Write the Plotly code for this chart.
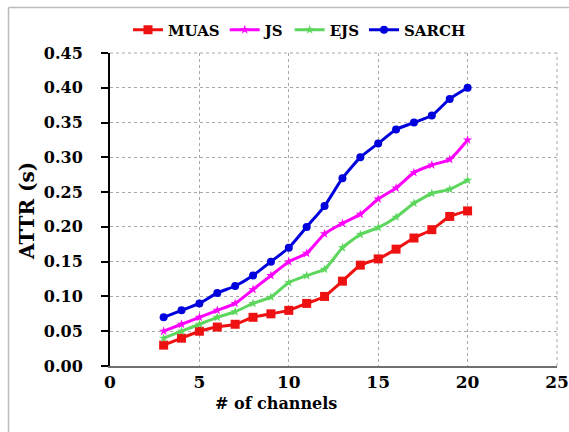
import plotly.graph_objects as go

channels = list(range(3, 21))
muas = [0.030, 0.040, 0.050, 0.056, 0.060, 0.070, 0.075, 0.080, 0.090, 0.100,
        0.122, 0.145, 0.154, 0.168, 0.184, 0.196, 0.215, 0.223]
js = [0.050, 0.060, 0.070, 0.080, 0.090, 0.110, 0.130, 0.150, 0.162, 0.190,
      0.205, 0.218, 0.240, 0.256, 0.278, 0.289, 0.297, 0.325]
ejs = [0.040, 0.050, 0.060, 0.070, 0.078, 0.090, 0.099, 0.120, 0.130, 0.139,
       0.170, 0.189, 0.199, 0.214, 0.234, 0.248, 0.254, 0.267]
sarch = [0.070, 0.080, 0.090, 0.105, 0.115, 0.130, 0.150, 0.170, 0.200, 0.230,
         0.270, 0.300, 0.320, 0.340, 0.350, 0.360, 0.384, 0.400]
x_ticks = [0, 5, 10, 15, 20, 25]
y_ticks = [0, 0.05, 0.1, 0.15, 0.2, 0.25, 0.3, 0.35, 0.4, 0.45]

series = [
    ("MUAS", muas, "#EE1111", "square", 9),
    ("JS", js, "#FF00FF", "star", 7),
    ("EJS", ejs, "#5CD65C", "star", 7),
    ("SARCH", sarch, "#0000DD", "circle", 8),
]

FONT = "DejaVu Serif"
fig = go.Figure()
for name, vals, col, sym, sz in series:
    fig.add_trace(go.Scatter(
        x=channels, y=vals, name=name, mode="lines+markers",
        line=dict(color=col, width=3, shape="spline", smoothing=0.5),
        marker=dict(symbol=sym, size=sz, color=col),
    ))

fig.update_layout(
    width=569, height=432,
    margin=dict(l=110, r=12, t=53, b=66, autoexpand=False),
    paper_bgcolor="white", plot_bgcolor="white",
    font=dict(family=FONT, size=16, color="black", weight="bold"),
    showlegend=True,
    legend=dict(orientation="h", xref="container", yref="container",
                x=128 / 569, y=1 - 30 / 432, xanchor="left", yanchor="middle",
                font=dict(family=FONT, size=15, weight="bold"),
                itemwidth=30, bgcolor="rgba(0,0,0,0)"),
    xaxis=dict(range=[0, 25], tickvals=x_ticks,
               showgrid=True, gridcolor="#A8A8A8", griddash="dot", gridwidth=1,
               showline=True, linecolor="#707070", linewidth=2,
               ticks="", zeroline=False, automargin=False,
               tickfont=dict(family=FONT, size=17, weight="bold")),
    xaxis2=dict(range=[0, 25], tickvals=x_ticks, overlaying="x", anchor="y", side="bottom",
                matches="x", showgrid=False, showline=False, showticklabels=False,
                ticks="outside", ticklen=6, tickcolor="#707070", tickwidth=1.5,
                zeroline=False, automargin=False),
    yaxis=dict(range=[0, 0.45], tickvals=y_ticks, tickformat=".2f",
               showgrid=True, gridcolor="#A8A8A8", griddash="dot", gridwidth=1,
               showline=True, linecolor="black", linewidth=2,
               ticks="outside", ticklen=7, tickcolor="black", tickwidth=1.5,
               zeroline=False, ticklabelstandoff=15, automargin=False,
               tickfont=dict(family=FONT, size=16, weight="bold")),
    annotations=[
        dict(text="# of channels", xref="paper", yref="paper",
             x=(276 - 110) / 447, y=(366 - 403) / 313, xanchor="center", yanchor="middle",
             showarrow=False, font=dict(family=FONT, size=16, weight="bold")),
        dict(text="ATTR (s)", xref="paper", yref="paper", textangle=-90,
             x=(27 - 110) / 447, y=(366 - 211) / 313, xanchor="center", yanchor="middle",
             showarrow=False, font=dict(family=FONT, size=20, weight="bold")),
    ],
    shapes=[
        dict(type="line", xref="paper", yref="paper", x0=1, x1=1, y0=0, y1=1,
             line=dict(color="#A8A8A8", width=1, dash="dot")),
        dict(type="line", xref="paper", yref="paper", x0=0, x1=1, y0=1, y1=1,
             line=dict(color="#A8A8A8", width=1, dash="dot")),
        dict(type="line", xref="paper", yref="paper",
             x0=(8.5 - 110) / 447, x1=(8.5 - 110) / 447, y0=-0.4, y1=(366 - 7.5) / 313,
             line=dict(color="#BBBBBB", width=1.5)),
        dict(type="line", xref="paper", yref="paper",
             x0=(8.5 - 110) / 447, x1=1.1, y0=(366 - 7.5) / 313, y1=(366 - 7.5) / 313,
             line=dict(color="#BBBBBB", width=1.5)),
    ],
)

fig.write_html("out.html")
